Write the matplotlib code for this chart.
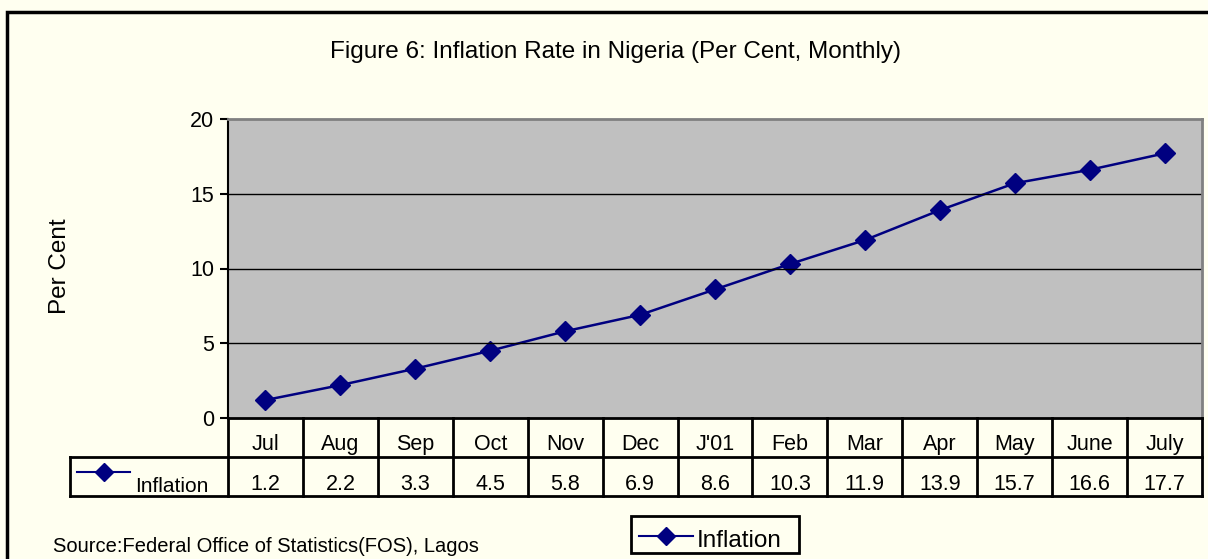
import matplotlib.pyplot as plt
from matplotlib.lines import Line2D
from matplotlib.patches import Rectangle

months = ['Jul', 'Aug', 'Sep', 'Oct', 'Nov', 'Dec', "J'01", 'Feb', 'Mar',
          'Apr', 'May', 'June', 'July']
inflation = [1.2, 2.2, 3.3, 4.5, 5.8, 6.9, 8.6, 10.3, 11.9, 13.9, 15.7, 16.6, 17.7]
yticks = [0, 5, 10, 15, 20]

plt.rcParams['font.family'] = ['Liberation Sans', 'DejaVu Sans']
W, H = 1208, 559
bg = '#FFFFF0'
navy = '#000080'

fig = plt.figure(figsize=(W / 100, H / 100), dpi=100, facecolor=bg)

# outer frame (right/bottom run off the picture)
fig.patches.append(Rectangle((7 / W, -0.1), 1.2, (H - 12) / H + 0.1,
                             transform=fig.transFigure, fill=False,
                             edgecolor='black', linewidth=2.5))


def fx(px):
    return px / W


def fy(py):
    return 1 - py / H


# main plot area
left, right, top, bottom = 228, 1202, 119, 418
ax = fig.add_axes([fx(left), fy(bottom), fx(right - left), (bottom - top) / H])
ax.set_facecolor('#C0C0C0')
n = len(months)
xs = [i + 0.5 for i in range(n)]
ax.plot(xs, inflation, color=navy, linewidth=1.8, marker='D', markersize=10,
        markerfacecolor=navy, markeredgecolor=navy)
ax.set_xlim(0, n)
ax.set_ylim(0, 20)
ax.set_yticks(yticks)
ax.set_xticks([])
for y in [5, 10, 15]:
    ax.axhline(y, color='black', linewidth=1)
ax.spines['top'].set_color('#808080')
ax.spines['right'].set_color('#808080')
ax.spines['top'].set_linewidth(2)
ax.spines['right'].set_linewidth(2)
ax.spines['left'].set_linewidth(1.5)
ax.spines['bottom'].set_visible(False)
ax.tick_params(axis='y', direction='out', length=6, width=1.5, labelsize=15.5,
               pad=4)
fig.text(fx(60), fy(266), 'Per Cent', rotation=90, ha='center', va='center',
         fontsize=17.5)

# data table
col_w = (right - left) / n
tleft = 70
x0 = -(left - tleft) / col_w
tab = fig.add_axes([fx(tleft), fy(496), fx(right - tleft), (496 - 418) / H])
tab.set_xlim(x0, n)
tab.set_ylim(0, 2)
tab.axis('off')
tab.set_facecolor('none')
lw = 2
tab.plot([0, n], [2, 2], color='black', lw=lw, clip_on=False)
tab.plot([x0, n], [1, 1], color='black', lw=lw, clip_on=False)
tab.plot([x0, n], [0, 0], color='black', lw=lw, clip_on=False)
tab.plot([x0, x0], [0, 1], color='black', lw=lw, clip_on=False)
for i in range(n + 1):
    tab.plot([i, i], [0, 2], color='black', lw=lw, clip_on=False)
for i, (m, v) in enumerate(zip(months, inflation)):
    tab.text(i + 0.5, 1.32, m, ha='center', va='center', fontsize=15.5)
    tab.text(i + 0.5, 0.3, f'{v:.1f}', ha='center', va='center', fontsize=15.5)
kx0 = x0 + 7 / col_w
kx1 = x0 + 60 / col_w
tab.plot([kx0, kx1], [0.62, 0.62], color=navy, lw=1.5)
tab.plot([(kx0 + kx1) / 2], [0.62], marker='D', color=navy, markersize=9)
tab.text(x0 + 65 / col_w, 0.24, 'Inflation', ha='left', va='center', fontsize=15)

# title, source
fig.text(fx(615), fy(52), 'Figure 6: Inflation Rate in Nigeria (Per Cent, Monthly)',
         ha='center', va='center', fontsize=17.5)
fig.text(fx(53), fy(547), 'Source:Federal Office of Statistics(FOS), Lagos',
         ha='left', va='center', fontsize=14.5)

# legend
fig.patches.append(Rectangle((fx(631), fy(553)), fx(168), (553 - 516) / H,
                             transform=fig.transFigure, fill=False,
                             edgecolor='black', linewidth=2))
fig.lines.append(Line2D([fx(639), fx(693)], [fy(536), fy(536)],
                        transform=fig.transFigure, color=navy, lw=1.5))
fig.lines.append(Line2D([fx(666)], [fy(536)], transform=fig.transFigure,
                        marker='D', color=navy, markersize=9))
fig.text(fx(697), fy(541), 'Inflation', ha='left', va='center', fontsize=17.5)

fig.savefig('out.png', dpi=100, facecolor=bg)
